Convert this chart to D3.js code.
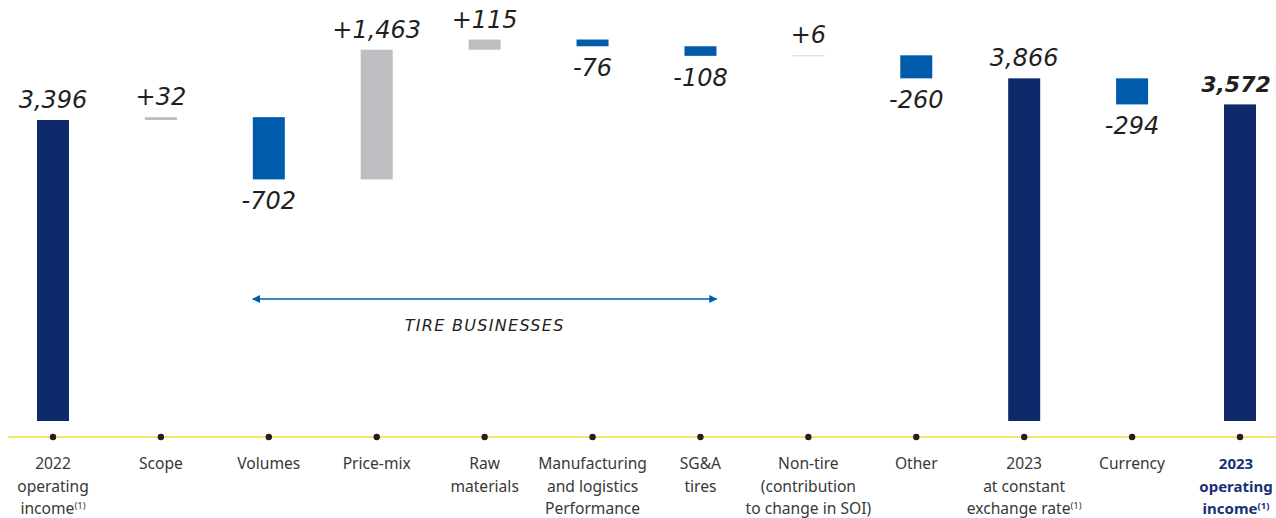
<!DOCTYPE html>
<html>
<head>
<meta charset="utf-8">
<script src="https://cdn.jsdelivr.net/npm/d3@7"></script>
<style>
  body { margin: 0; background: #fff; }
  svg { display: block; }
</style>
</head>
<body>
<div id="chart"></div>
<script>
// categories, one entry per line of the axis label; "^" marks the (1) note
var categories = [
  ["2022", "operating", "income^"],
  ["Scope"],
  ["Volumes"],
  ["Price-mix"],
  ["Raw", "materials"],
  ["Manufacturing", "and logistics", "Performance"],
  ["SG&A", "tires"],
  ["Non-tire", "(contribution", "to change in SOI)"],
  ["Other"],
  ["2023", "at constant", "exchange rate^"],
  ["Currency"],
  ["2023", "operating", "income^"]
];
var values = [3396, 32, -702, 1463, 115, -76, -108, 6, -260, 3866, -294, 3572];
var isTotal = [true, false, false, false, false, false, false, false, false, true, false, true];
var bracket = [2, 6]; // "Tire businesses" spans Volumes..SG&A
var bracketLabel = "TIRE BUSINESSES";

var W = 1276, H = 518;
var colors = { total: "#0f2a6b", up: "#bdbec1", down: "#005bab" };
var last = values.length - 1;

// running totals for the waterfall
var run = 0;
var data = values.map(function (v, i) {
  var d = { i: i, v: v, total: isTotal[i] };
  if (d.total) { d.y0 = 0; d.y1 = v; run = v; }
  else { d.y0 = run; d.y1 = run + v; run = d.y1; }
  return d;
});

var svg = d3.select("#chart").append("svg").attr("width", W).attr("height", H);

var x = d3.scalePoint().domain(d3.range(categories.length)).range([53, 1240]);
var y = d3.scaleLinear().domain([0, 4750]).range([421, 0]);
var bw = 32;

var fmt = function (d) {
  var s = d3.format(",")(d.v).replace("\u2212", "-");
  return (!d.total && d.v > 0) ? "+" + s : s;
};

// bars
svg.selectAll("rect.bar").data(data).enter().append("rect")
  .attr("class", "bar")
  .attr("x", function (d) { return x(d.i) - bw / 2; })
  .attr("width", bw)
  .attr("y", function (d) { return y(Math.max(d.y0, d.y1)); })
  .attr("height", function (d) { return Math.max(1, Math.abs(y(d.y0) - y(d.y1))); })
  .attr("fill", function (d) {
    if (d.total) return colors.total;
    if (d.v > 0) return d.v < 10 ? "#d0d1d3" : colors.up;
    return colors.down;
  });

// value labels
svg.selectAll("text.val").data(data).enter().append("text")
  .attr("class", "val")
  .attr("x", function (d) { return x(d.i) + (d.i === last ? -4 : 0); })
  .attr("y", function (d) {
    return d.v > 0 ? y(Math.max(d.y0, d.y1)) - 12 : y(Math.min(d.y0, d.y1)) + 30;
  })
  .attr("text-anchor", "middle")
  .style("font-family", "'DejaVu Sans', sans-serif")
  .style("font-style", "oblique")
  .style("font-size", function (d) { return d.i === last ? "22px" : "24px"; })
  .style("font-weight", function (d) { return d.i === last ? "bold" : "normal"; })
  .attr("fill", "#231f20")
  .text(fmt);

// yellow base line with dots
svg.append("line")
  .attr("x1", 8).attr("x2", W).attr("y1", 437).attr("y2", 437)
  .attr("stroke", "#f2dc3a").attr("stroke-width", 1.6);
svg.selectAll("circle.tick").data(data).enter().append("circle")
  .attr("cx", function (d) { return x(d.i); })
  .attr("cy", 437).attr("r", 3.2).attr("fill", "#231f20");

// category labels
var lab = svg.selectAll("text.cat").data(categories).enter().append("text")
  .attr("class", "cat")
  .attr("text-anchor", "middle")
  .style("font-family", "'Noto Sans', sans-serif")
  .style("font-size", function (d, i) { return i === last ? "15px" : "15.6px"; })
  .style("font-weight", function (d, i) { return i === last ? "bold" : "normal"; })
  .attr("fill", function (d, i) { return i === last ? "#1a2f78" : "#383838"; });

lab.each(function (lines, i) {
  var t = d3.select(this);
  var cx = x(i) - (i === last ? 4 : 0);
  lines.forEach(function (line, j) {
    t.append("tspan").attr("x", cx).attr("y", 469 + j * 22.5)
      .text(line.replace("^", ""));
    if (line.indexOf("^") >= 0) {
      t.append("tspan").attr("dy", -5).style("font-size", "9.5px").text("(1)");
    }
  });
});

// tire businesses bracket
var defs = svg.append("defs");
defs.append("marker").attr("id", "ah").attr("viewBox", "0 0 10 10")
  .attr("refX", 9).attr("refY", 5).attr("markerWidth", 8).attr("markerHeight", 8)
  .attr("markerUnits", "userSpaceOnUse")
  .attr("orient", "auto-start-reverse")
  .append("path").attr("d", "M0,0L10,5L0,10Z").attr("fill", colors.down);

svg.append("line")
  .attr("x1", x(bracket[0]) - 16).attr("x2", x(bracket[1]) + 16)
  .attr("y1", 299).attr("y2", 299)
  .attr("stroke", colors.down).attr("stroke-width", 1.3)
  .attr("marker-start", "url(#ah)").attr("marker-end", "url(#ah)");

svg.append("text")
  .attr("x", (x(bracket[0]) + x(bracket[1])) / 2).attr("y", 331)
  .attr("text-anchor", "middle")
  .style("font-family", "'DejaVu Sans', sans-serif")
  .style("font-style", "oblique")
  .style("font-size", "16px")
  .style("letter-spacing", "1.3px")
  .attr("fill", "#231f20")
  .text(bracketLabel);
</script>
</body>
</html>
